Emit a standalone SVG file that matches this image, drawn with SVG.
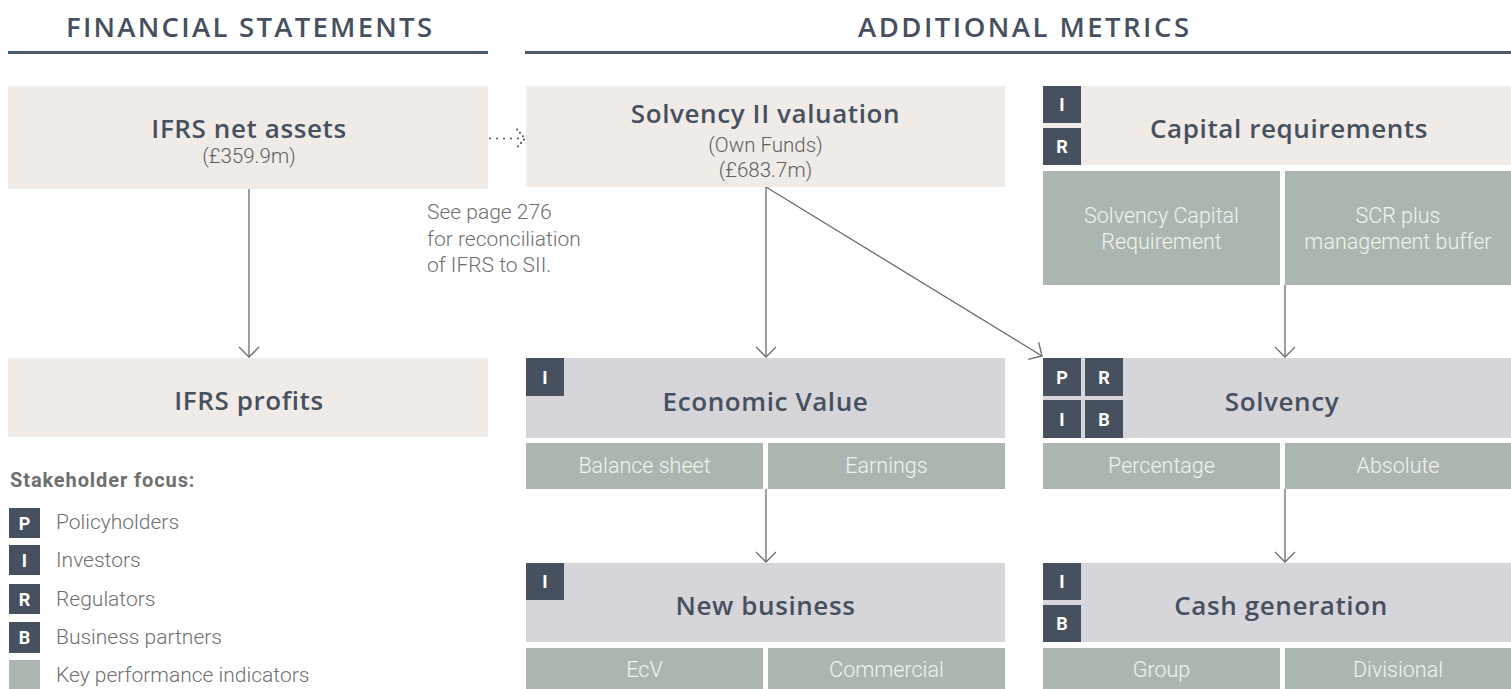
<svg xmlns="http://www.w3.org/2000/svg" width="1511" height="689" viewBox="0 0 1511 689">
<style>
.hdr{font-family:"Open Sans","Liberation Sans",sans-serif;font-weight:600;font-size:27.5px;fill:#46505f;text-anchor:middle}
.ttl{font-family:"Open Sans","Liberation Sans",sans-serif;font-weight:600;font-size:26px;letter-spacing:0.6px;fill:#46505f;text-anchor:middle}
.sub{font-family:Roboto,"Liberation Sans",sans-serif;font-weight:300;font-size:20.5px;fill:#5f5f5f;text-anchor:middle}
.kpi{font-family:Roboto,"Liberation Sans",sans-serif;font-weight:300;font-size:21.5px;fill:#f1f3f1;text-anchor:middle}
.note{font-family:Roboto,"Liberation Sans",sans-serif;font-weight:300;font-size:21px;fill:#6f6f6f}
.leg{font-family:Roboto,"Liberation Sans",sans-serif;font-weight:300;font-size:21px;fill:#6f6f6f}
.legh{font-family:Roboto,"Liberation Sans",sans-serif;font-weight:700;font-size:20px;letter-spacing:0.9px;fill:#6f6f6f}
.bdg{fill:#46505f}
.bl{font-family:Roboto,"Liberation Sans",sans-serif;font-weight:700;font-size:18px;fill:#ffffff;text-anchor:middle}
.beige{fill:#f0ebe7}
.grey{fill:#d6d5da}
.green{fill:#abb7ae}
.con{fill:none;stroke:#6b6b6b;stroke-width:1.3}
.dot{fill:none;stroke:#555b63;stroke-width:2.2;stroke-linecap:round;stroke-dasharray:0 7}
</style>
<defs>
<marker id="arr" markerUnits="userSpaceOnUse" markerWidth="24" markerHeight="24" viewBox="-12 -12 24 24" refX="0" refY="0" orient="auto">
<path d="M-10,-10 L0,0 L-10,10" fill="none" stroke="#6b6b6b" stroke-width="1.3"/>
</marker>
<marker id="darr" markerUnits="userSpaceOnUse" markerWidth="24" markerHeight="24" viewBox="-12 -12 24 24" refX="0" refY="0" orient="auto">
<path d="M-8,-9 L0,0 L-8,9" fill="none" stroke="#555b63" stroke-width="2.2" stroke-linecap="round" stroke-dasharray="0 4.5"/>
</marker>
</defs>
<rect width="1511" height="689" fill="#ffffff"/>

<g id="headers">
<text class="hdr" x="249" y="37" textLength="366" lengthAdjust="spacing">FINANCIAL STATEMENTS</text>
<rect x="8" y="51" width="480" height="3" fill="#4d5a69"/>
<text class="hdr" x="1023.5" y="37" textLength="331" lengthAdjust="spacing">ADDITIONAL METRICS</text>
<rect x="525" y="51" width="986" height="3" fill="#4d5a69"/>
</g>

<g id="connectors">
<path class="con" d="M249,189 V357" marker-end="url(#arr)"/>
<path class="con" d="M766,187 V357" marker-end="url(#arr)"/>
<path class="con" d="M766,187 L1042,356" marker-end="url(#arr)"/>
<path class="con" d="M1285,285 V357" marker-end="url(#arr)"/>
<path class="con" d="M766,489 V562" marker-end="url(#arr)"/>
<path class="con" d="M1285,489 V562" marker-end="url(#arr)"/>
<path class="dot" d="M490,138.5 H525" marker-end="url(#darr)"/>
</g>

<g id="ifrs-net-assets">
<rect class="beige" x="8" y="86" width="480" height="103"/>
<text class="ttl" x="249" y="138">IFRS net assets</text>
<text class="sub" x="249" y="163">(£359.9m)</text>
</g>

<g id="solvency-ii-valuation">
<rect class="beige" x="526" y="86" width="479" height="101"/>
<text class="ttl" x="765.5" y="123">Solvency II valuation</text>
<text class="sub" x="765.5" y="152">(Own Funds)</text>
<text class="sub" x="765.5" y="177">(£683.7m)</text>
</g>

<g id="reconciliation-note">
<text class="note" x="427" y="219">See page 276</text>
<text class="note" x="427" y="246">for reconciliation</text>
<text class="note" x="427" y="272">of IFRS to SII.</text>
</g>

<g id="capital-requirements">
<rect class="beige" x="1043" y="86" width="468" height="79"/>
<rect class="bdg" x="1043" y="86" width="38" height="37"/>
<text class="bl" x="1062" y="111">I</text>
<rect class="bdg" x="1043" y="128" width="38" height="37"/>
<text class="bl" x="1062" y="153">R</text>
<text class="ttl" x="1289" y="138">Capital requirements</text>
</g>

<g id="scr">
<rect class="green" x="1043" y="171" width="237" height="114"/>
<text class="kpi" x="1161.5" y="223">Solvency Capital</text>
<text class="kpi" x="1161.5" y="249">Requirement</text>
</g>

<g id="scr-buffer">
<rect class="green" x="1285" y="171" width="226" height="114"/>
<text class="kpi" x="1398" y="223">SCR plus</text>
<text class="kpi" x="1398" y="249">management buffer</text>
</g>

<g id="ifrs-profits">
<rect class="beige" x="8" y="358" width="480" height="79"/>
<text class="ttl" x="249" y="410">IFRS profits</text>
</g>

<g id="economic-value">
<rect class="grey" x="526" y="358" width="479" height="80"/>
<rect class="bdg" x="526" y="358" width="38" height="38"/>
<text class="bl" x="545" y="384">I</text>
<text class="ttl" x="765.5" y="411">Economic Value</text>
<rect class="green" x="526" y="443" width="237" height="46"/>
<text class="kpi" x="644.5" y="473">Balance sheet</text>
<rect class="green" x="768" y="443" width="237" height="46"/>
<text class="kpi" x="886.5" y="473">Earnings</text>
</g>

<g id="solvency">
<rect class="grey" x="1043" y="358" width="468" height="80"/>
<rect class="bdg" x="1043" y="358" width="38" height="38"/>
<text class="bl" x="1062" y="384">P</text>
<rect class="bdg" x="1085" y="358" width="38" height="38"/>
<text class="bl" x="1104" y="384">R</text>
<rect class="bdg" x="1043" y="400" width="38" height="38"/>
<text class="bl" x="1062" y="426">I</text>
<rect class="bdg" x="1085" y="400" width="38" height="38"/>
<text class="bl" x="1104" y="426">B</text>
<text class="ttl" x="1282" y="411">Solvency</text>
<rect class="green" x="1043" y="443" width="237" height="46"/>
<text class="kpi" x="1161.5" y="473">Percentage</text>
<rect class="green" x="1285" y="443" width="226" height="46"/>
<text class="kpi" x="1398" y="473">Absolute</text>
</g>

<g id="new-business">
<rect class="grey" x="526" y="563" width="479" height="79"/>
<rect class="bdg" x="526" y="563" width="38" height="37"/>
<text class="bl" x="545" y="588">I</text>
<text class="ttl" x="765.5" y="615">New business</text>
<rect class="green" x="526" y="648" width="237" height="41"/>
<text class="kpi" x="644.5" y="677">EcV</text>
<rect class="green" x="768" y="648" width="237" height="41"/>
<text class="kpi" x="886.5" y="677">Commercial</text>
</g>

<g id="cash-generation">
<rect class="grey" x="1043" y="563" width="468" height="79"/>
<rect class="bdg" x="1043" y="563" width="38" height="37"/>
<text class="bl" x="1062" y="588">I</text>
<rect class="bdg" x="1043" y="605" width="38" height="37"/>
<text class="bl" x="1062" y="630">B</text>
<text class="ttl" x="1281" y="615">Cash generation</text>
<rect class="green" x="1043" y="648" width="237" height="41"/>
<text class="kpi" x="1161.5" y="677">Group</text>
<rect class="green" x="1285" y="648" width="226" height="41"/>
<text class="kpi" x="1398" y="677">Divisional</text>
</g>

<g id="legend">
<text class="legh" x="10" y="487">Stakeholder focus:</text>
<rect class="bdg" x="9" y="508" width="31" height="30"/>
<text class="bl" x="24.5" y="530">P</text>
<text class="leg" x="56" y="529">Policyholders</text>
<rect class="bdg" x="9" y="545" width="31" height="30"/>
<text class="bl" x="24.5" y="567">I</text>
<text class="leg" x="56" y="567">Investors</text>
<rect class="bdg" x="9" y="584" width="31" height="30"/>
<text class="bl" x="24.5" y="606">R</text>
<text class="leg" x="56" y="606">Regulators</text>
<rect class="bdg" x="9" y="622" width="31" height="31"/>
<text class="bl" x="24.5" y="644">B</text>
<text class="leg" x="56" y="644">Business partners</text>
<rect class="green" x="9" y="660" width="31" height="29"/>
<text class="leg" x="56" y="682">Key performance indicators</text>
</g>
</svg>
